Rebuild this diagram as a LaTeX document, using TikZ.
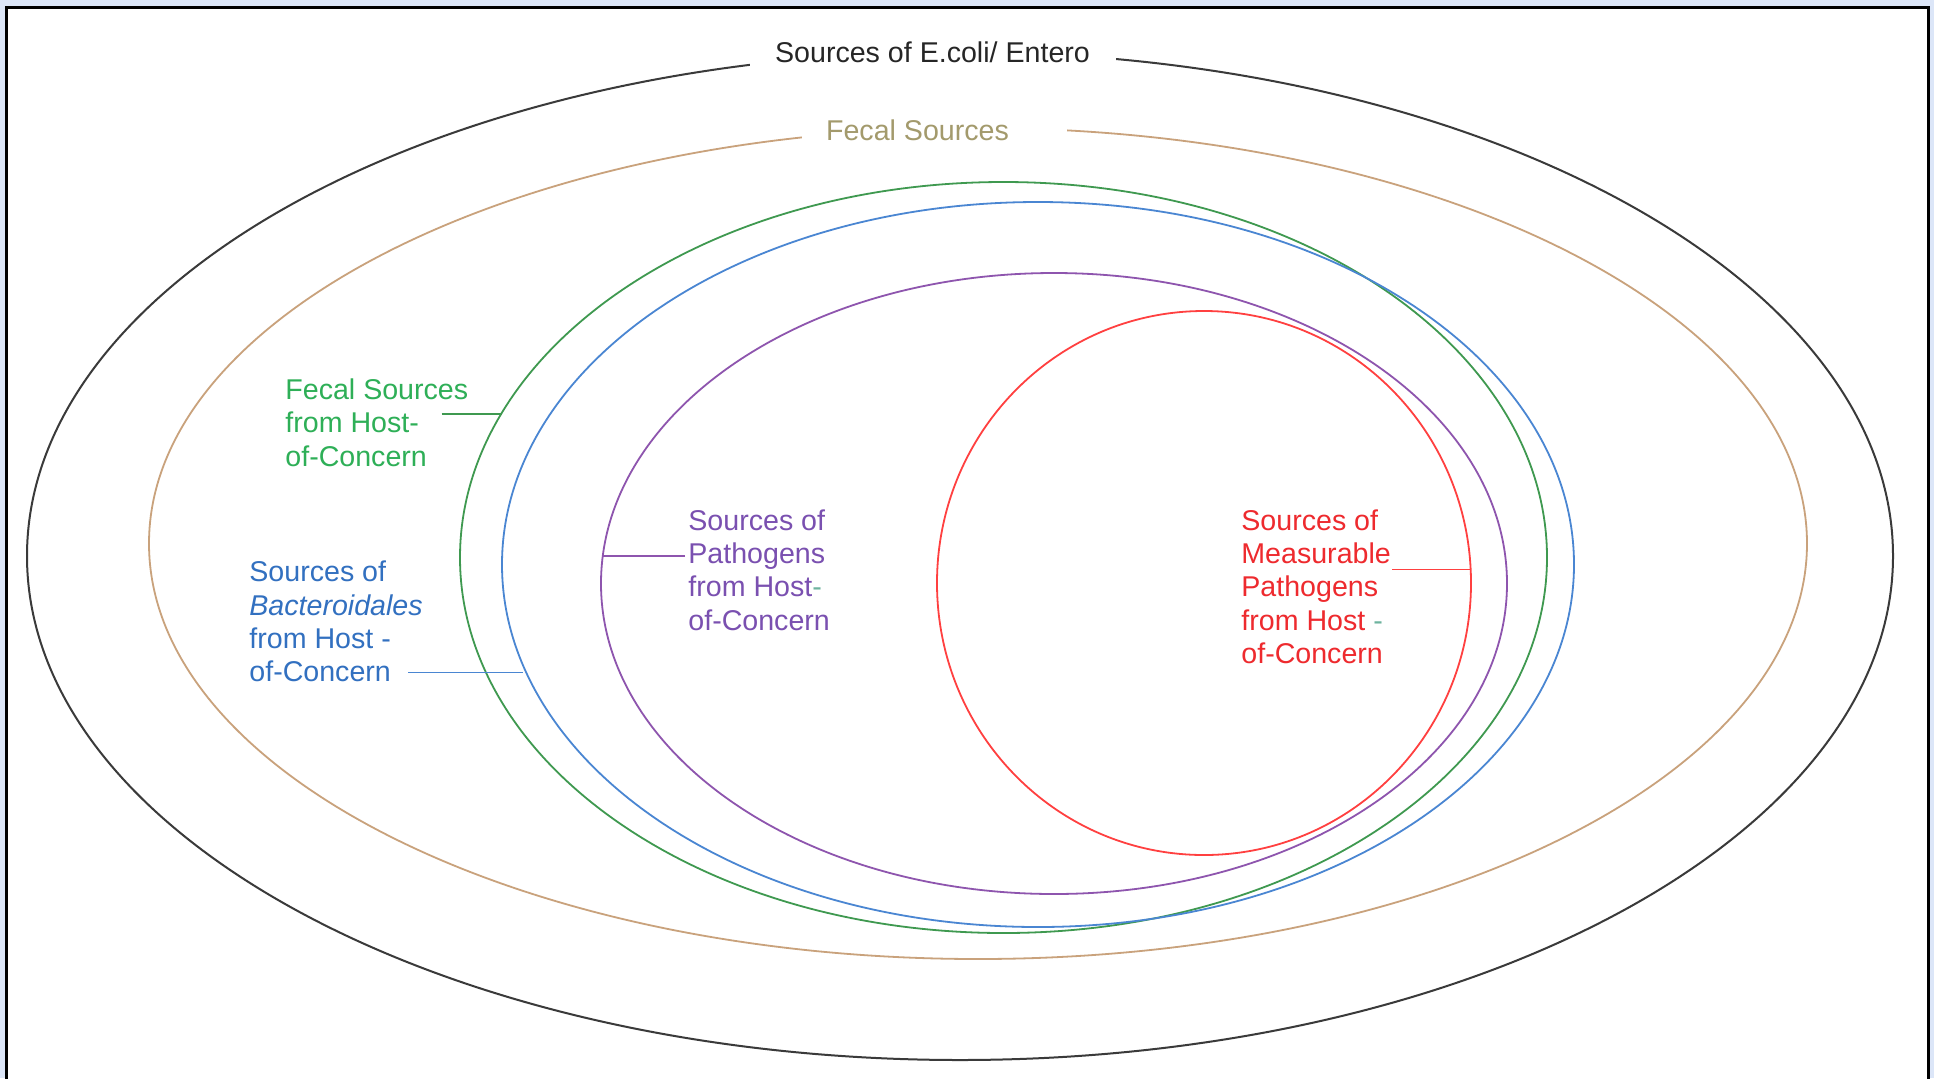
\documentclass[tikz,border=0pt]{standalone}
\usepackage{fontspec}
\setmainfont{Liberation Sans}
\usetikzlibrary{shapes.geometric}
\definecolor{bgblue}{HTML}{DCE6F8}
\definecolor{ringblack}{HTML}{3A3A3A}
\definecolor{ringtan}{HTML}{C9A27C}
\definecolor{txttan}{HTML}{A39A6C}
\definecolor{ringgreen}{HTML}{3F9950}
\definecolor{txtgreen}{HTML}{2EAF57}
\definecolor{ringblue}{HTML}{4A86D2}
\definecolor{txtblue}{HTML}{3270C0}
\definecolor{ringpurple}{HTML}{8E55AE}
\definecolor{txtpurple}{HTML}{7A50B0}
\definecolor{ringred}{HTML}{FF4040}
\definecolor{txtred}{HTML}{EE2A2E}
\definecolor{hyph}{HTML}{6DB39E}
\begin{document}
\begin{tikzpicture}[x=0.5pt,y=-0.5pt,
  ring/.style={ellipse, draw, inner sep=0pt, outer sep=0pt, line width=0.9pt},
  lbl/.style={font=\fontsize{14.3}{16.65}\selectfont, inner sep=0pt, align=left, anchor=west},
  lead/.style={line width=0.75pt}]
\useasboundingbox (0,0) rectangle (1934,1078);
\fill[bgblue] (0,0) rectangle (1934,1078);
\begin{scope}
\clip (0,0) rectangle (1934,1078);
\draw[line width=1.5pt, fill=white] (6.5,7.5) rectangle (1928,1100);
\end{scope}
% rings
\node[ring, draw=ringblack, line width=1pt, minimum width=933pt, minimum height=504pt] (ecoli) at (960,556) {};
\node[ring, draw=ringtan, minimum width=829pt, minimum height=415.5pt] (fecal) at (978,543.5) {};
\node[ring, draw=ringgreen, minimum width=543.5pt, minimum height=375.5pt] (host) at (1003.5,557.5) {};
\node[ring, draw=ringblue, minimum width=536pt, minimum height=362.5pt] (bact) at (1038,564.5) {};
\node[ring, draw=ringpurple, minimum width=453pt, minimum height=310.5pt] (path) at (1054,583.5) {};
\node[ring, draw=ringred, minimum width=267pt, minimum height=272pt] (meas) at (1204,583) {};
% gaps for the top labels
\fill[white] (750,25) rectangle (1116,85);
\fill[white] (802,100) rectangle (1067,160);
\node[font=\fontsize{14.3}{16.65}\selectfont, inner sep=0pt, text=black!85] (ecolilbl) at (932.5,52) {Sources of E.coli/ Entero};
\node[font=\fontsize{14.3}{16.65}\selectfont, inner sep=0pt, text=txttan] (fecallbl) at (917.5,130) {Fecal Sources};
% side labels
\node[lbl, text=txtgreen] (hostlbl) at (285,422.5) {Fecal Sources\\from Host-\\of-Concern};
\node[lbl, text=txtblue] (bactlbl) at (249,621.5) {Sources of\\\textit{Bacteroidales}\\from Host -\\of-Concern};
\node[lbl, text=txtpurple] (pathlbl) at (688,570) {Sources of\\Pathogens\\from Host{\color{hyph}-}\\of-Concern};
\node[lbl, text=txtred] (measlbl) at (1241,586.5) {Sources of\\Measurable\\Pathogens\\from Host {\color{hyph}-}\\of-Concern};
% leaders
\coordinate (hostc) at (441.6,414);
\coordinate (bactc) at (408,672.5);
\coordinate (pathc) at (685,556);
\coordinate (measc) at (1392,569.3);
\draw[lead, draw=ringgreen] (hostc) -- (hostc -| host.164.06);
\draw[lead, draw=ringblue] (bactc) -- (bactc -| bact.191.92);
\draw[lead, draw=ringpurple] (pathc) -- (pathc -| path.176.51);
\draw[lead, draw=ringred] (measc) -- (measc -| meas.2.94);
\end{tikzpicture}
\end{document}
